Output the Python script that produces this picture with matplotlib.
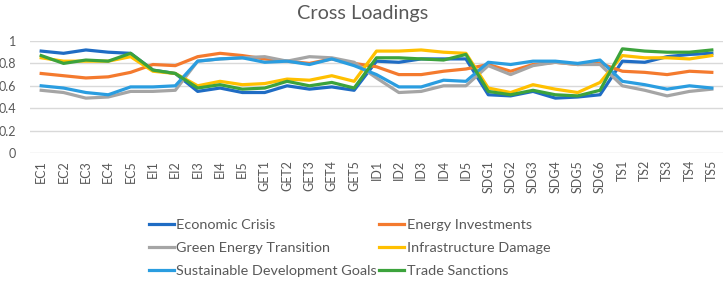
import numpy as np
import matplotlib.pyplot as plt

plt.rcParams['font.family'] = ['Lato', 'DejaVu Sans']

items = ["EC1", "EC2", "EC3", "EC4", "EC5",
         "EI1", "EI2", "EI3", "EI4", "EI5",
         "GET1", "GET2", "GET3", "GET4", "GET5",
         "ID1", "ID2", "ID3", "ID4", "ID5",
         "SDG1", "SDG2", "SDG3", "SDG4", "SDG5", "SDG6",
         "TS1", "TS2", "TS3", "TS4", "TS5"]

economic_crisis = [0.91, 0.89, 0.92, 0.90, 0.89, 0.74, 0.71, 0.55, 0.58, 0.54,
                   0.54, 0.60, 0.57, 0.59, 0.56, 0.82, 0.81, 0.84, 0.84, 0.84,
                   0.52, 0.51, 0.55, 0.49, 0.50, 0.52,
                   0.82, 0.81, 0.86, 0.88, 0.89]
energy_investments = [0.71, 0.69, 0.67, 0.68, 0.72, 0.79, 0.78, 0.86, 0.89, 0.87,
                      0.84, 0.82, 0.80, 0.84, 0.80, 0.77, 0.70, 0.70, 0.73, 0.75,
                      0.79, 0.73, 0.79, 0.81, 0.79, 0.80,
                      0.73, 0.72, 0.70, 0.73, 0.72]
green_energy = [0.56, 0.54, 0.49, 0.50, 0.55, 0.55, 0.56, 0.82, 0.84, 0.85,
                0.86, 0.82, 0.86, 0.85, 0.81, 0.67, 0.54, 0.55, 0.60, 0.60,
                0.78, 0.70, 0.78, 0.81, 0.79, 0.79,
                0.60, 0.56, 0.51, 0.55, 0.57]
infrastructure = [0.85, 0.82, 0.82, 0.82, 0.86, 0.73, 0.71, 0.60, 0.64, 0.61,
                  0.62, 0.66, 0.65, 0.69, 0.64, 0.91, 0.91, 0.92, 0.90, 0.89,
                  0.58, 0.54, 0.61, 0.57, 0.54, 0.63,
                  0.87, 0.85, 0.85, 0.84, 0.87]
sdg = [0.60, 0.58, 0.54, 0.52, 0.59, 0.59, 0.60, 0.82, 0.84, 0.85,
       0.81, 0.82, 0.79, 0.84, 0.78, 0.70, 0.59, 0.59, 0.65, 0.64,
       0.81, 0.79, 0.82, 0.82, 0.80, 0.83,
       0.64, 0.61, 0.57, 0.60, 0.58]
trade_sanctions = [0.87, 0.80, 0.83, 0.82, 0.89, 0.74, 0.71, 0.58, 0.61, 0.57,
                   0.58, 0.64, 0.60, 0.63, 0.58, 0.85, 0.85, 0.84, 0.83, 0.88,
                   0.55, 0.52, 0.56, 0.52, 0.51, 0.56,
                   0.93, 0.91, 0.90, 0.90, 0.92]

series = [("Economic Crisis", economic_crisis, "#1f6cc4"),
          ("Energy Investments", energy_investments, "#f47a2e"),
          ("Green Energy Transition", green_energy, "#a5a5a5"),
          ("Infrastructure Damage", infrastructure, "#ffc000"),
          ("Sustainable Development Goals", sdg, "#2a9de0"),
          ("Trade Sanctions", trade_sanctions, "#3ca33c")]

fig = plt.figure(figsize=(7.26, 2.82), dpi=100)
ax = fig.add_axes([30 / 726, 1 - 153 / 282, 693 / 726, 112 / 282])

x = np.arange(len(items))
handles = []
for name, vals, col in series:
    h, = ax.plot(x, vals, color=col, lw=2.3, label=name, clip_on=False)
    handles.append(h)

ax.set_xlim(-0.5, len(items) - 0.5)
ax.set_ylim(0, 1)
ax.set_yticks([0, 0.2, 0.4, 0.6, 0.8, 1])
ax.set_yticklabels(["0", "0.2", "0.4", "0.6", "0.8", "1"])
ax.set_xticks(x)
ax.set_xticklabels(items, rotation=90)
ax.grid(axis='y', color='#d9d9d9', lw=1)
ax.set_axisbelow(True)
for s in ax.spines.values():
    s.set_visible(False)
ax.tick_params(length=0, colors='#595959', labelsize=9)
ax.tick_params(axis='y', pad=10)
ax.tick_params(axis='x', pad=5)

fig.text(0.5, 1 - 13 / 282, "Cross Loadings", ha='center', va='center',
         fontsize=14.3, color='#595959')

# legend is filled column by column, so reorder to read row by row
order = [0, 2, 4, 1, 3, 5]
leg = fig.legend([handles[i] for i in order], [series[i][0] for i in order],
                 ncol=2, loc='center left', bbox_to_anchor=(149 / 726, 1 - 248 / 282),
                 frameon=False, fontsize=10.4, handlelength=1.7, handletextpad=0.2,
                 columnspacing=0.15, labelspacing=0.75, borderpad=0, borderaxespad=0)
for t in leg.get_texts():
    t.set_color('#595959')

fig.savefig("out.png", dpi=100)
